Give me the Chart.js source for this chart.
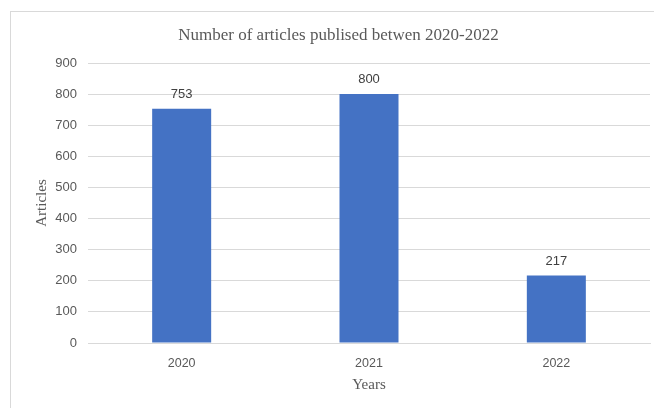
<!DOCTYPE html>
<html>
<head>
<meta charset="utf-8">
<script src="https://cdn.jsdelivr.net/npm/chart.js@4"></script>
<style>
  html, body { margin: 0; padding: 0; background: #fff; overflow: hidden; }
  #wrap { position: relative; width: 654px; height: 408px; }
  #frame { position: absolute; left: 10px; top: 11px; width: 700px; height: 500px; border: 1px solid #d9d9d9; }
  canvas { position: absolute; left: 0; top: 0; }
</style>
</head>
<body>
<div id="wrap">
  <div id="frame"></div>
  <canvas id="chart" width="654" height="408"></canvas>
</div>
<script>
// data
const years = ['2020', '2021', '2022'];
const articles = [753, 800, 217];
const yTicks = [0, 100, 200, 300, 400, 500, 600, 700, 800, 900];

const textColor = '#595959';
const sans = '"Liberation Sans", Arial, sans-serif';
const serif = '"Liberation Serif", "Times New Roman", serif';

// draws the value above each bar
const valueLabels = {
  id: 'valueLabels',
  afterDatasetsDraw(chart) {
    const ctx = chart.ctx;
    const meta = chart.getDatasetMeta(0);
    ctx.save();
    ctx.font = '13px ' + sans;
    ctx.fillStyle = '#404040';
    ctx.textAlign = 'center';
    ctx.textBaseline = 'bottom';
    meta.data.forEach((bar, i) => {
      ctx.fillText(String(articles[i]), bar.x, bar.y - 8);
    });
    ctx.restore();
  }
};

const ctx = document.getElementById('chart').getContext('2d');
new Chart(ctx, {
  type: 'bar',
  data: {
    labels: years,
    datasets: [{
      label: 'Articles',
      data: articles,
      backgroundColor: '#4472C4',
      borderWidth: 0,
      categoryPercentage: 1,
      barPercentage: 0.315
    }]
  },
  options: {
    responsive: false,
    animation: false,
    events: [],
    layout: { padding: { left: 27, right: 4, top: 0, bottom: 0 } },
    plugins: {
      legend: { display: false },
      tooltip: { enabled: false },
      title: {
        display: true,
        text: 'Number of articles publised betwen 2020-2022',
        color: textColor,
        font: { family: serif, size: 17, weight: 'normal' },
        padding: { top: 25, bottom: 17.6 }
      }
    },
    scales: {
      x: {
        grid: { display: false, drawTicks: false },
        border: { display: true, color: '#d9d9d9' },
        ticks: {
          color: textColor,
          font: { family: sans, size: 12.5 },
          padding: 13,
          maxRotation: 0
        },
        title: {
          display: true,
          text: 'Years',
          color: textColor,
          font: { family: serif, size: 15 },
          padding: { top: 0, bottom: 14 }
        },
        afterFit(scale) { scale.height = 65; }
      },
      y: {
        min: 0,
        max: 900,
        afterBuildTicks(scale) { scale.ticks = yTicks.map(v => ({ value: v })); },
        grid: { color: '#d9d9d9', drawTicks: false },
        border: { display: false },
        ticks: {
          color: textColor,
          font: { family: sans, size: 13 },
          padding: 11
        },
        title: {
          display: true,
          text: 'Articles',
          color: textColor,
          font: { family: serif, size: 15 },
          padding: { top: 6, bottom: 0 }
        },
        afterFit(scale) { scale.width = 61; }
      }
    }
  },
  plugins: [valueLabels]
});
</script>
</body>
</html>
